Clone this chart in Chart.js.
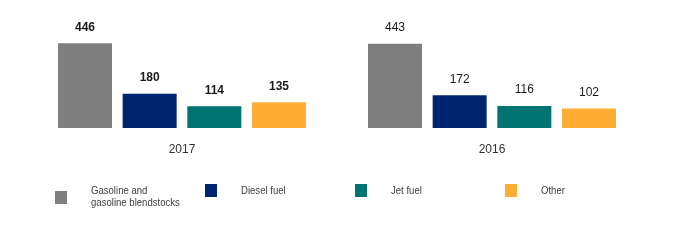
<!DOCTYPE html>
<html>
<head>
<meta charset="utf-8">
<script src="https://cdn.jsdelivr.net/npm/chart.js@4/dist/chart.umd.min.js"></script>
<style>
  html, body { margin: 0; padding: 0; background: #fff; }
  #wrap { width: 680px; height: 240px; }
</style>
</head>
<body>
<div id="wrap"><canvas id="fuelChart" width="680" height="240"></canvas></div>
<script>
// Date
const years = ['2017', '2016'];
const gasoline = [446, 443];
const diesel = [180, 172];
const jetFuel = [114, 116];
const other = [135, 102];
const seriesNames = [['Gasoline and', 'gasoline blendstocks'], ['Diesel fuel'], ['Jet fuel'], ['Other']];
const colors = ['#7f7f7f', '#002570', '#007470', '#ffae34'];

// Etichete valori deasupra barelor
const valueLabels = {
    id: 'valueLabels',
    afterDatasetsDraw(chart) {
        const ctx = chart.ctx;
        ctx.save();
        ctx.fillStyle = '#1a1a1a';
        ctx.textAlign = 'center';
        ctx.textBaseline = 'middle';
        chart.data.datasets.forEach((ds, i) => {
            chart.getDatasetMeta(i).data.forEach((bar, j) => {
                ctx.font = (j === 0 ? 'bold ' : '') + '12px "Liberation Sans", Arial, sans-serif';
                ctx.fillText(ds.data[j], bar.x, bar.y - 16);
            });
        });
        ctx.restore();
    }
};

// Legenda desenata manual (text putin ingustat, ca in original)
const fuelLegend = {
    id: 'fuelLegend',
    afterDraw(chart) {
        const ctx = chart.ctx;
        ctx.save();
        ctx.font = '11px "Liberation Sans", Arial, sans-serif';
        ctx.textBaseline = 'middle';
        ctx.textAlign = 'left';
        chart.data.datasets.forEach((ds, i) => {
            const x = 55 + i * 150;
            const lines = seriesNames[i];
            const boxY = lines.length > 1 ? 191 : 184;
            ctx.fillStyle = ds.backgroundColor;
            ctx.fillRect(x, boxY, 12, 13);
            ctx.fillStyle = '#404040';
            lines.forEach((t, k) => {
                ctx.save();
                ctx.translate(x + 36, 191 + k * 12);
                ctx.scale(0.87, 1);
                ctx.fillText(t, 0, 0);
                ctx.restore();
            });
        });
        ctx.restore();
    }
};

const ctx = document.getElementById('fuelChart').getContext('2d');
new Chart(ctx, {
    type: 'bar',
    data: {
        labels: years,
        datasets: [
            { label: 'Gasoline and gasoline blendstocks', data: gasoline, backgroundColor: colors[0] },
            { label: 'Diesel fuel', data: diesel, backgroundColor: colors[1] },
            { label: 'Jet fuel', data: jetFuel, backgroundColor: colors[2] },
            { label: 'Other', data: other, backgroundColor: colors[3] }
        ]
    },
    options: {
        responsive: false,
        animation: false,
        categoryPercentage: 0.8345,
        barPercentage: 0.835,
        layout: { padding: { left: 27, right: 33, top: 33, bottom: 0 } },
        plugins: {
            legend: { display: false },
            tooltip: { enabled: false }
        },
        scales: {
            x: {
                grid: { display: false, drawTicks: false },
                border: { display: false },
                ticks: {
                    color: '#333',
                    padding: 14,
                    font: { family: '"Liberation Sans", Arial, sans-serif', size: 12 }
                },
                afterFit: (scale) => { scale.height = 112; }
            },
            y: {
                display: false,
                min: 0,
                max: 500
            }
        }
    },
    plugins: [valueLabels, fuelLegend]
});
</script>
</body>
</html>
